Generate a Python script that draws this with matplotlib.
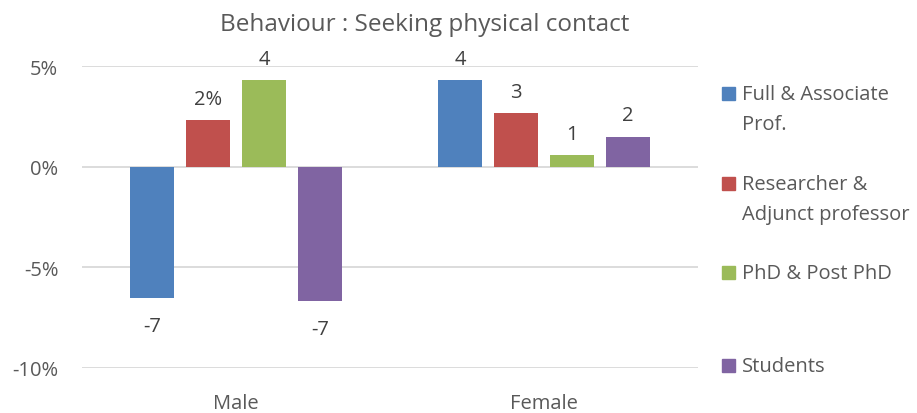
import numpy as np
import matplotlib
matplotlib.use("Agg")
import matplotlib.pyplot as plt
from matplotlib.patches import Rectangle

plt.rcParams['font.family'] = ['Open Sans', 'DejaVu Sans']

# data
groups = ['Male', 'Female']
series = ['Full & Associate\nProf.', 'Researcher &\nAdjunct professor', 'PhD & Post PhD', 'Students']
values = [
    [-6.5, 4.3],   # Full & Associate Prof.
    [2.3, 2.65],   # Researcher & Adjunct professor
    [4.3, 0.6],    # PhD & Post PhD
    [-6.65, 1.5],  # Students
]
labels = [
    ['-7', '4'],
    ['2%', '3'],
    ['4', '1'],
    ['-7', '2'],
]
colors = ['#4F81BD', '#C0504D', '#9BBB59', '#8064A2']
txt = '#595959'
fs = 14.5

fig = plt.figure(figsize=(9.17, 4.14), dpi=100)
ax = fig.add_axes([0.0894, 0.1087, 0.6718, 0.7293])

x = np.arange(len(groups))
step = 0.1818
width = 0.1438
for i in range(len(series)):
    xs = x + (i - 1.5) * step
    vals = np.array(values[i]) / 100.0
    ax.bar(xs, vals, width, color=colors[i], zorder=3)
    for xx, v, lab in zip(xs, vals, labels[i]):
        if v >= 0:
            ax.annotate(lab, (xx, v), xytext=(0, 8), textcoords='offset points',
                        ha='center', va='bottom', fontsize=fs, color='#404040')
        else:
            ax.annotate(lab, (xx, v), xytext=(0, -13), textcoords='offset points',
                        ha='center', va='top', fontsize=fs, color='#404040')

ax.set_xlim(-0.5, 1.5)
ax.set_ylim(-0.10, 0.05)
ax.set_yticks([0.05, 0.0, -0.05, -0.10])
ax.set_yticklabels(['5%', '0%', '-5%', '-10%'])
ax.set_xticks(x)
ax.set_xticklabels(groups)
ax.tick_params(axis='y', length=0, pad=17, labelsize=fs, labelcolor=txt)
ax.tick_params(axis='x', length=0, pad=18, labelsize=fs, labelcolor=txt)
ax.grid(axis='y', color='#D9D9D9', linewidth=1.3, zorder=0)
for s in ax.spines.values():
    s.set_visible(False)

fig.text(0.4635, 0.94, 'Behaviour : Seeking physical contact', ha='center', va='center',
         fontsize=17.5, color=txt)

# legend drawn by hand to match the uneven spacing
leg_y = [94, 184, 273, 366]
for i in range(len(series)):
    yc = 1 - leg_y[i] / 414.0
    fig.patches.append(Rectangle((722 / 917.0, yc - 6.5 / 414.0), 13 / 917.0, 13 / 414.0,
                                 transform=fig.transFigure, color=colors[i], figure=fig))
    fig.text(742 / 917.0, yc + 9 / 414.0, series[i], ha='left', va='top', fontsize=fs,
             color=txt, linespacing=1.65)

plt.savefig('out.png', dpi=100)
